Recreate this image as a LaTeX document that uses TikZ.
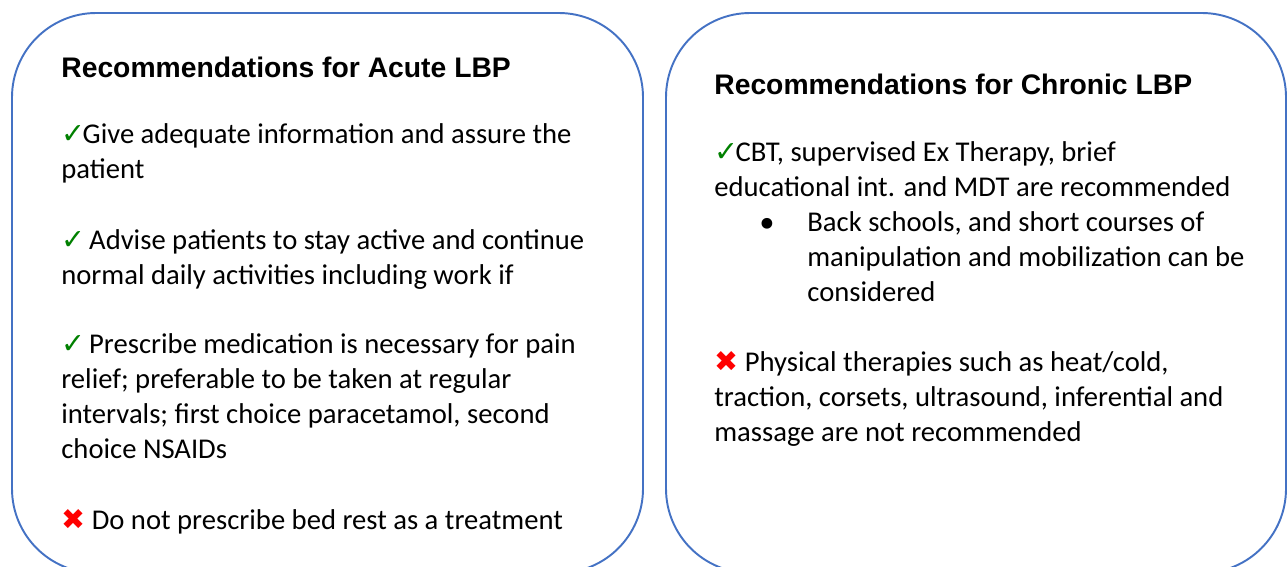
\documentclass[tikz,border=0pt]{standalone}
\usepackage{fontspec}
\setmainfont{Carlito}
\newfontfamily\headfont{Liberation Sans}
\newfontfamily\symfont{DejaVu Sans}
\definecolor{panelblue}{RGB}{68,114,196}
\definecolor{tickgreen}{RGB}{0,128,0}
\definecolor{crossred}{RGB}{255,0,0}
\newcommand\oktick{{\symfont\color{tickgreen}✓}\kern-1.5pt}
\newcommand\nocross{{\symfont\color{crossred}✖}}
\tikzset{
  panel/.style={draw=panelblue, line width=1.1pt, rounded corners=48pt},
  head/.style={anchor=base west, inner sep=0pt, font=\headfont\bfseries\fontsize{16.1}{19}\selectfont},
  body/.style={anchor=north west, inner sep=0pt, align=left, execute at begin node=\strut, font=\fontsize{16.3}{19.9}\selectfont},
}
\begin{document}
\begin{tikzpicture}[x=0.02cm,y=-0.02cm]
\useasboundingbox (0,0) rectangle (1287,567);
\draw[panel] (12,13) rectangle (643,573);
\draw[panel] (666,13) rectangle (1286,573);

\draw (61,78) node[head] (acutehead) {Recommendations for Acute LBP};
\draw (61,123.5) node[body] (acuteinfo) {\oktick Give adequate information and assure the\\patient};
\draw (61,229.5) node[body] (acuteactive) {\oktick\ Advise patients to stay active and continue\\normal daily activities including work if};
\draw (61,333.5) node[body] (acutemeds) {\oktick\ Prescribe medication is necessary for pain\\relief; preferable to be taken at regular\\intervals; first choice paracetamol, second\\choice NSAIDs};
\draw (61,505) node[body] (acutebed) {\nocross\ Do not prescribe bed rest as a treatment};

\draw (714,95) node[head] (chronichead) {Recommendations for Chronic LBP};
\draw (714,141.5) node[body] (chroniccbt) {\oktick CBT, supervised Ex Therapy, brief\\educational int. and MDT are recommended};
\draw (756,238) node[body, anchor=base west, font=\symfont\fontsize{21}{19.9}\selectfont] (chronicdot) {•};
\draw (807,211.5) node[body] (chronicback) {Back schools, and short courses of\\manipulation and mobilization can be\\considered};
\draw (714,351.5) node[body] (chronicphys) {\nocross\ Physical therapies such as heat/cold,\\traction, corsets, ultrasound, inferential and\\massage are not recommended};
\end{tikzpicture}
\end{document}
